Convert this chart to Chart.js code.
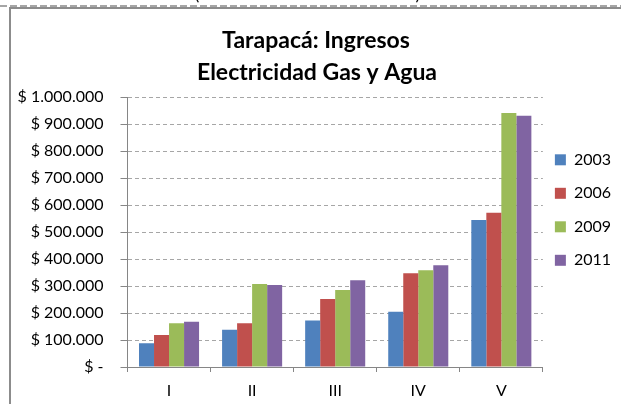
<!DOCTYPE html>
<html>
<head>
<meta charset="utf-8">
<script src="https://cdn.jsdelivr.net/npm/chart.js@4"></script>
<style>
  html, body { margin: 0; padding: 0; background: #ffffff; }
  canvas { display: block; }
</style>
</head>
<body>
<canvas id="myChart" width="621" height="404"></canvas>
<script>
// Datos del gráfico
const categories = ['I', 'II', 'III', 'IV', 'V'];
const seriesNames = ['2003', '2006', '2009', '2011'];
const values2003 = [87700, 138000, 172000, 205000, 544000];
const values2006 = [118500, 162000, 252000, 347000, 571000];
const values2009 = [162000, 307000, 285000, 358000, 941000];
const values2011 = [168000, 304000, 321000, 377000, 931000];
const yTickLabels = ['$ -', '$ 100.000', '$ 200.000', '$ 300.000', '$ 400.000', '$ 500.000',
    '$ 600.000', '$ 700.000', '$ 800.000', '$ 900.000', '$ 1.000.000'];
const titleLines = ['Tarapacá: Ingresos', 'Electricidad Gas y Agua'];

const seriesColors = ['#4F81BD', '#C0504D', '#9BBB59', '#8064A2'];
const allValues = [values2003, values2006, values2009, values2011];

// Marco y título (dibujados sobre el canvas)
const framePlugin = {
    id: 'frame',
    beforeDraw(chart) {
        const ctx = chart.ctx;
        ctx.save();
        ctx.fillStyle = '#ffffff';
        ctx.fillRect(0, 0, chart.width, chart.height);
        // linea discontinua superior
        ctx.strokeStyle = '#a6a6a6';
        ctx.lineWidth = 2;
        ctx.setLineDash([7, 3]);
        ctx.beginPath();
        ctx.moveTo(0, 6);
        ctx.lineTo(chart.width, 6);
        ctx.stroke();
        // borde del gráfico
        ctx.setLineDash([]);
        ctx.strokeStyle = '#8c8c8c';
        ctx.lineWidth = 2;
        ctx.beginPath();
        ctx.moveTo(10, chart.height);
        ctx.lineTo(10, 8);
        ctx.lineTo(chart.width, 8);
        ctx.stroke();
        // restos del texto superior cortado
        ctx.fillStyle = '#000';
        ctx.font = '18px Lato';
        ctx.textAlign = 'center';
        ctx.textBaseline = 'alphabetic';
        ctx.fillText('(', 197, 0);
        ctx.fillText(')', 418, 0);
        ctx.restore();
    },
    afterDraw(chart) {
        const ctx = chart.ctx;
        ctx.save();
        ctx.fillStyle = '#000';
        ctx.font = 'bold 23px Lato';
        ctx.textAlign = 'center';
        ctx.textBaseline = 'alphabetic';
        ctx.fillText(titleLines[0], 316, 47.5);
        ctx.fillText(titleLines[1], 317, 80);
        ctx.restore();
    }
};

const ctx = document.getElementById('myChart').getContext('2d');
const myChart = new Chart(ctx, {
    type: 'bar',
    data: {
        labels: categories,
        datasets: seriesNames.map((name, i) => ({
            label: name,
            data: allValues[i],
            backgroundColor: seriesColors[i],
            borderWidth: 0,
            barPercentage: 1,
            categoryPercentage: 0.723
        }))
    },
    options: {
        responsive: false,
        animation: false,
        devicePixelRatio: 1,
        layout: {
            padding: { top: 97, right: 0, bottom: 0, left: 0 }
        },
        plugins: {
            title: { display: false },
            tooltip: { enabled: false },
            legend: {
                position: 'right',
                align: 'start',
                title: {
                    display: true,
                    text: '',
                    font: { size: 10, lineHeight: 1 },
                    padding: { top: 32.8, bottom: 0 }
                },
                labels: {
                    boxWidth: 11,
                    boxHeight: 11,
                    padding: 12,
                    color: '#000',
                    font: { family: 'Lato', size: 16, lineHeight: 21.5 / 16 },
                    generateLabels(chart) {
                        const items = Chart.defaults.plugins.legend.labels.generateLabels(chart);
                        items.forEach(item => {
                            item.text = [item.text];
                            item.lineWidth = 0;
                        });
                        return items;
                    }
                }
            }
        },
        scales: {
            x: {
                afterFit(scale) {
                    scale.height = 37;
                },
                grid: {
                    drawOnChartArea: false,
                    drawTicks: true,
                    tickLength: 5,
                    tickColor: '#868686'
                },
                border: { color: '#868686', width: 1 },
                ticks: {
                    color: '#000',
                    padding: 9,
                    font: { family: 'Lato', size: 16 }
                }
            },
            y: {
                min: 0,
                max: 1000000,
                afterFit(scale) {
                    scale.width = 127.5;
                },
                grid: {
                    color: '#a6a6a6',
                    tickColor: '#868686',
                    tickLength: 7,
                    tickBorderDash: []
                },
                border: { color: '#868686', width: 1, dash: [4, 3] },
                ticks: {
                    stepSize: 100000,
                    color: '#000',
                    padding: 17,
                    font: { family: 'Lato', size: 16 },
                    callback: (value, index) => yTickLabels[index]
                }
            }
        }
    },
    plugins: [framePlugin]
});
</script>
</body>
</html>
